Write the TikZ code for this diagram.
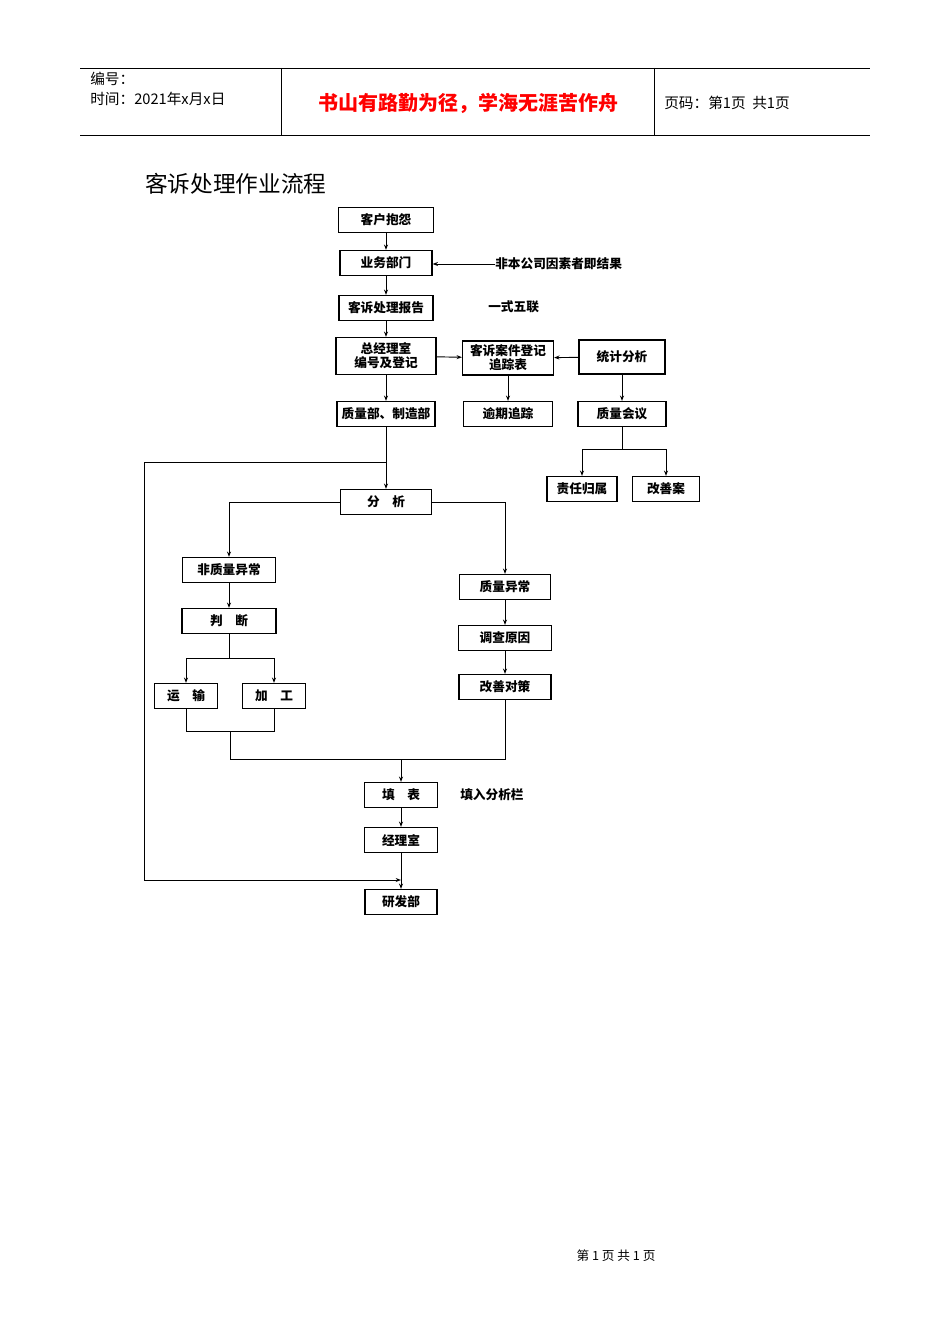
\documentclass[tikz,border=0pt]{standalone}
\usepackage{fontspec}
\setmainfont{Noto Sans CJK SC}
\usetikzlibrary{arrows.meta}
\begin{document}
\begin{tikzpicture}[x=0.75pt,y=-0.75pt,
  bx/.style={draw,line width=0.9pt,minimum width=#1*0.75pt,minimum height=25*0.75pt,inner sep=0pt,font=\fontsize{9.5}{10.5}\selectfont\bfseries},
  bx/.default=92,
  ln/.style={line width=0.7pt},
  ar/.style={line width=0.7pt,-{Stealth[length=4pt,width=3pt]}},
  lbl/.style={font=\fontsize{9.5}{10}\selectfont\bfseries,anchor=west,inner sep=0pt}]
\useasboundingbox[fill=white] (0,0) rectangle (950,1344);
% header
\draw[line width=0.6pt] (80,68) -- (870,68) (80,135) -- (870,135) (281,68) -- (281,135) (654,68) -- (654,135);
\node[anchor=west,inner sep=0pt,font=\fontsize{11}{12}\selectfont] (h1) at (90,79) {编号：};
\node[anchor=west,inner sep=0pt,font=\fontsize{11}{12}\selectfont] (h2) at (90,99) {时间：2021年x月x日};
\node[inner sep=0pt,text=red,font=\fontsize{15}{16}\selectfont\bfseries] (h3) at (468,103) {书山有路勤为径，学海无涯苦作舟};
\node[anchor=west,inner sep=0pt,font=\fontsize{11}{12}\selectfont] (h4) at (664,103) {页码：第1页\ \ 共1页};
\node[anchor=west,inner sep=0pt,font=\fontsize{17}{18}\selectfont] (title) at (145,184) {客诉处理作业流程};
\node[inner sep=0pt,font=\fontsize{9.5}{10}\selectfont] (foot) at (616,1256) {第\ 1\ 页\ 共\ 1\ 页};
% boxes
\node[bx=95] (a) at (386,220) {客户抱怨};
\node[bx=92] (b) at (386,263) {业务部门};
\node[bx=94] (c) at (386,308) {客诉处理报告};
\node[bx=100,minimum height=37*0.75pt,align=center] (d) at (386,356) {总经理室\\编号及登记};
\node[bx=91,minimum height=34*0.75pt,align=center] (e) at (508,358) {客诉案件登记\\追踪表};
\node[bx=86,minimum height=34*0.75pt] (f) at (622,357) {统计分析};
\node[bx=98] (g) at (386,414) {质量部、制造部};
\node[bx=89] (h) at (508,414) {逾期追踪};
\node[bx=88] (i) at (622,414) {质量会议};
\node[bx=70] (j) at (582,489) {责任归属};
\node[bx=67] (k) at (666,489) {改善案};
\node[bx=91] (l) at (386,502) {分\quad 析};
\node[bx=93] (m) at (229,570) {非质量异常};
\node[bx=94] (n) at (229,621) {判\quad 断};
\node[bx=63] (o) at (186,696) {运\quad 输};
\node[bx=63] (p) at (274,696) {加\quad 工};
\node[bx=91] (q) at (505,587) {质量异常};
\node[bx=93] (r) at (505,638) {调查原因};
\node[bx=92] (s) at (505,687) {改善对策};
\node[bx=73] (t) at (401,795) {填\quad 表};
\node[bx=73] (u) at (401,840) {经理室};
\node[bx=72] (v) at (401,902) {研发部};
\node[lbl] (x1) at (495,264) {非本公司因素者即结果};
\node[lbl] (x2) at (488,307) {一式五联};
\node[lbl] (x3) at (460,795) {填入分析栏};
% connectors
\draw[ar] (a) -- (b);
\draw[ar] (x1.west) -- (b.east|-x1.west);
\draw[ar] (b) -- (c);
\draw[ar] (c) -- (d);
\draw[ar] (d) -- (e);
\draw[ar] (f) -- (e);
\draw[ar] (e) -- (h);
\draw[ar] (f) -- (i);
\draw[ar] (d) -- (g);
\coordinate (sp) at (386,462);
\draw[ln] (g) -- (sp);
\draw[ar] (sp) -- (l);
\draw[ar] (sp) -- (144,462) -- (144,880) -- (401,880);
\draw[ar] (l.west) -| (m.north);
\draw[ar] (l.east) -| (q.north);
\draw[ar] (m) -- (n);
\coordinate (sp2) at (229,658);
\draw[ln] (n) -- (sp2);
\draw[ar] (sp2) -| (o.north);
\draw[ar] (sp2) -| (p.north);
\draw[ar] (q) -- (r);
\draw[ar] (r) -- (s);
\coordinate (sp3) at (622,449);
\draw[ln] (i) -- (sp3);
\draw[ar] (sp3) -| (j.north);
\draw[ar] (sp3) -| (k.north);
\draw[ln] (o.south) -- (186,731) -- (274,731) -- (p.south);
\draw[ln] (230,731) -- (230,759) -- (505,759) -- (s.south);
\draw[ar] (401,759) -- (t.north);
\draw[ar] (t) -- (u);
\draw[ar] (u) -- (v);
\end{tikzpicture}
\end{document}
